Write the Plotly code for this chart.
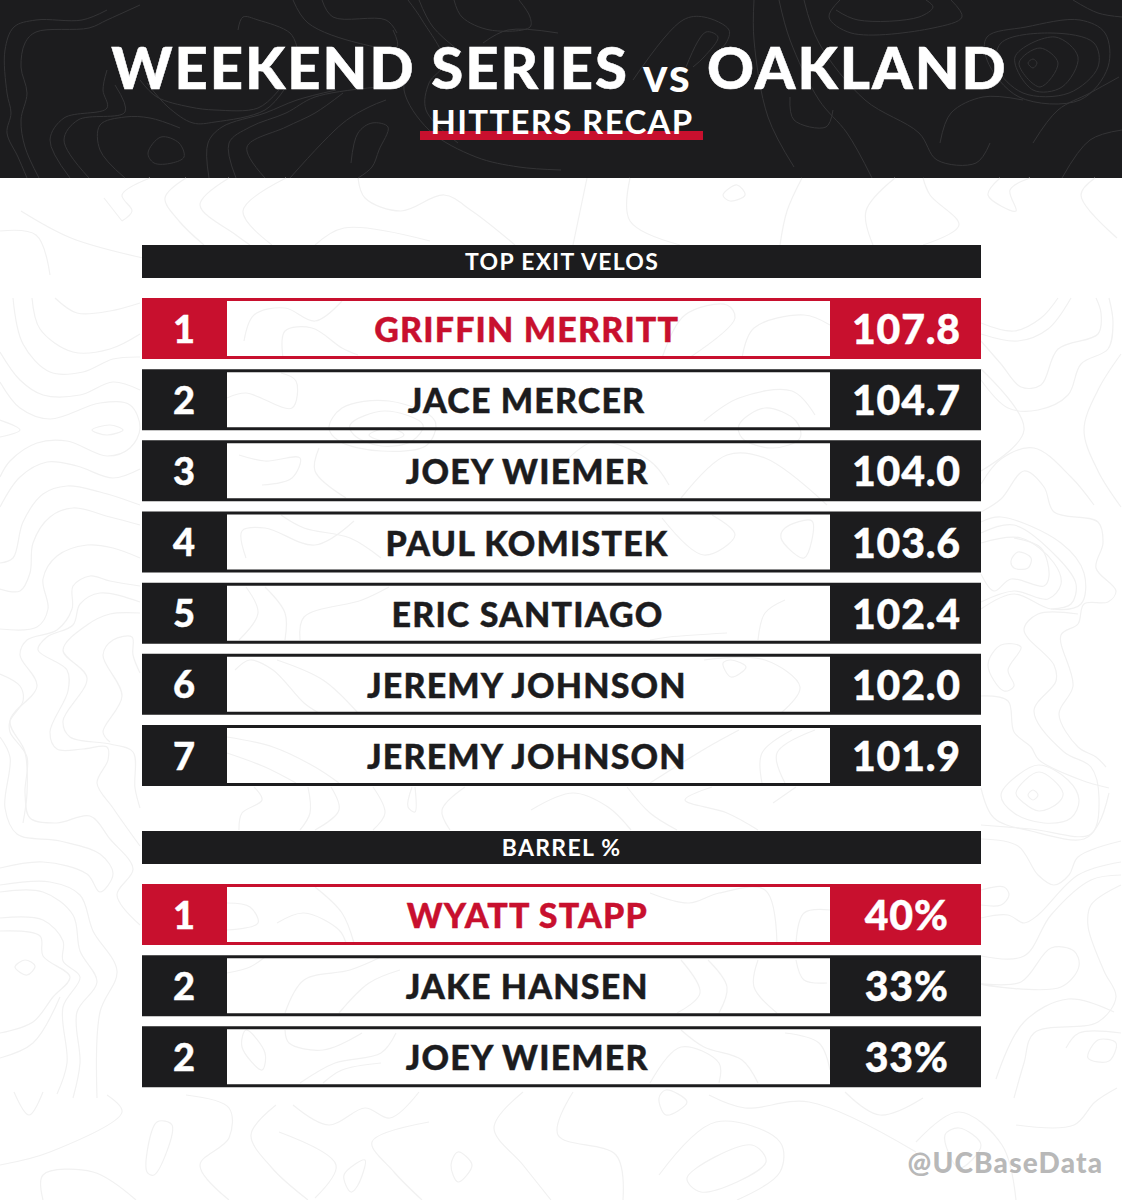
import json
import plotly.graph_objects as go

DARK = "#1c1c1e"
RED = "#c8102e"
FONT = "Lato"

title_left = "WEEKEND SERIES"
title_vs = "vs"
title_right = "OAKLAND"
subtitle = "HITTERS RECAP"
watermark = "@UCBaseData"

velo_header = "TOP EXIT VELOS"
velo_ranks = ["1", "2", "3", "4", "5", "6", "7"]
velo_names = ["GRIFFIN MERRITT", "JACE MERCER", "JOEY WIEMER", "PAUL KOMISTEK",
              "ERIC SANTIAGO", "JEREMY JOHNSON", "JEREMY JOHNSON"]
velo_values = ["107.8", "104.7", "104.0", "103.6", "102.4", "102.0", "101.9"]

barrel_header = "BARREL %"
barrel_ranks = ["1", "2", "2"]
barrel_names = ["WYATT STAPP", "JAKE HANSEN", "JOEY WIEMER"]
barrel_values = ["40%", "33%", "33%"]

# Topographic background lines
header_contours = [
    [(107,10),(82,20),(36,20),(14,27),(5,50),(7,93),(11,113),(7,133),(18,157),(27,178)],
    [(140,5),(107,20),(89,28),(36,32),(25,43),(21,67),(27,93),(21,120),(25,147),(39,178)],
    [(148,153),(161,137),(179,143),(184,157),(172,163),(154,163),(148,153)],
    [(70,178),(50,140),(64,118),(107,108),(103,90),(107,70)],
    [(89,178),(64,140),(78,120),(125,112),(115,85)],
    [(125,178),(100,150),(100,125),(125,117),(150,118),(180,128)],
    [(140,80),(157,97),(190,107),(215,110),(258,108),(279,90)],
    [(147,83),(168,107),(193,123),(215,122),(265,110),(286,87)],
    [(209,178),(208,143),(222,127),(265,113),(297,100),(336,90)],
    [(236,178),(229,143),(250,127),(286,113),(315,97),(379,87)],
    [(265,178),(247,147),(286,127),(315,113),(343,93)],
    [(290,178),(343,123),(369,107),(386,100)],
    [(351,163),(358,133),(372,123),(388,127),(379,150),(372,167),(358,178)],
    [(238,30),(243,17),(258,20),(290,33),(297,47)],
    [(293,0),(308,23),(358,43),(397,47),(393,30)],
    [(322,0),(333,17),(386,20),(397,33)],
    [(408,0),(422,20),(444,63),(429,83),(426,110),(458,143)],
    [(419,0),(433,27),(462,53)],
    [(411,60),(404,90),(429,130),(476,157),(519,167),(561,170)],
    [(454,0),(462,17),(490,30),(530,27),(530,17),(519,0)],
    [(483,43),(508,30),(558,33)],
    [(633,80),(683,20),(704,17),(729,30),(726,43),(711,57)],
    [(686,67),(706,32),(718,37),(704,57),(693,67)],
    [(754,0),(754,40),(768,117),(794,167)],
    [(779,0),(790,40),(819,100),(847,133),(872,178)],
    [(804,0),(819,43),(865,100),(919,133),(937,160),(976,163),(990,143)],
    [(836,10),(858,20),(919,17),(933,7),(926,0)],
    [(840,0),(829,17),(851,33),(933,28),(962,17),(951,0)],
    [(987,37),(1026,27),(1080,20),(1105,33),(1108,67),(1080,100),(1019,97),(987,60),(987,37)],
    [(1001,43),(1051,33),(1094,43),(1098,67),(1069,93),(1023,93),(997,67),(1001,43)],
    [(1015,57),(1055,37),(1078,57),(1062,87),(1033,90),(1015,57)],
    [(1019,63),(1040,48),(1058,63),(1040,87),(1019,63)],
    [(1028,63),(1033,59),(1037,63),(1033,68),(1028,63)],
    [(940,143),(951,113),(983,97),(1023,100)],
    [(1033,143),(1058,110),(1090,93),(1119,77)],
    [(1073,0),(1098,13),(1122,17)],
    [(1062,178),(1090,140),(1122,130)],
    [(790,97),(794,120),(826,127),(833,110)],
]
paper_contours = [
    [(55,298),(77,313),(110,311),(140,303)],
    [(32,298),(40,329),(73,352),(110,349),(140,334)],
    [(13,298),(23,344),(50,372),(83,372),(113,359),(140,357)],
    [(0,352),(20,380),(43,395),(80,395),(113,382),(140,390)],
    [(0,382),(20,408),(50,419),(100,403),(130,405),(140,428),(130,448),(107,456),(67,441),(37,443),(10,461),(0,477)],
    [(92,430),(110,425),(123,430),(107,435),(92,430)],
    [(0,420),(20,430),(0,437)],
    [(0,507),(20,477),(47,462),(77,466),(113,478),(140,469)],
    [(0,563),(13,558),(23,522),(43,494),(67,486),(100,492),(140,505)],
    [(0,589),(20,591),(30,573),(33,543),(50,517),(73,508),(110,517),(140,525)],
    [(0,629),(37,627),(48,609),(43,579),(57,556),(87,545),(113,548),(140,558)],
    [(140,586),(110,581),(90,576),(73,586),(72,609),(57,630),(27,640),(20,655),(37,686),(10,721),(25,752),(27,793),(23,823)],
    [(140,602),(100,593),(80,604),(73,625),(47,637),(38,650),(67,670),(68,691),(50,732),(57,749),(83,749),(107,747),(108,760),(97,783),(113,808),(140,846)],
    [(140,613),(110,614),(87,625),(63,650),(87,678),(63,721),(70,737),(110,744),(133,752),(135,788),(140,808)],
    [(140,673),(133,655),(132,637),(113,640),(103,655),(122,696),(103,732),(110,742)],
    [(0,674),(20,686),(23,701),(10,721),(10,732),(27,757),(25,793),(30,818),(57,823),(90,816),(110,839),(133,869),(117,895),(140,925)],
    [(0,737),(10,757),(5,808),(17,834),(60,841),(100,854),(113,874),(100,892),(87,874),(43,862),(0,868)],
    [(0,885),(50,882),(80,895),(93,931),(117,971),(100,1012),(97,1098)],
    [(0,892),(43,892),(73,915),(80,951),(97,982),(77,1012),(80,1063),(73,1098)],
    [(0,918),(43,920),(63,941),(63,961),(80,977),(63,1007),(67,1063),(57,1094)],
    [(15,967),(25,960),(35,966),(27,975),(15,967)],
    [(0,931),(40,936),(43,956),(70,977),(53,997),(33,1022),(0,1033)],
    [(0,1058),(33,1043),(60,997)],
    [(981,323),(1014,331),(1041,318),(1058,298)],
    [(981,334),(1018,341),(1048,329),(1071,298)],
    [(981,341),(1001,364),(1021,387),(1041,385),(1058,349),(1098,334),(1101,313),(1096,298)],
    [(981,369),(1024,430),(981,471)],
    [(981,380),(1008,408),(1038,410),(1068,395),(1081,364),(1108,349),(1113,323),(1109,298)],
    [(1121,354),(1098,390),(1084,430),(1098,471),(1121,507)],
    [(981,484),(1001,459),(1034,448),(1071,477),(1094,505)],
    [(981,512),(1001,499),(1024,471),(1044,487),(1054,512),(1098,522),(1103,543),(1096,568),(1116,591),(1108,602),(1084,604),(1078,624),(1061,635),(1073,686),(1059,714),(1078,747),(1096,757),(1106,767)],
    [(981,522),(1001,517),(1061,543),(1084,573),(1081,604),(1051,609),(1014,594),(981,609)],
    [(981,533),(1014,525),(1058,558),(1076,584),(1071,604),(1051,609)],
    [(981,543),(1021,538),(1054,563),(1061,584),(1048,599),(1014,591),(981,602)],
    [(981,574),(994,591),(1011,579),(1044,586),(1049,576),(1041,548),(1014,538)],
    [(1011,561),(1018,552),(1031,558),(1028,568),(1014,568),(1011,561)],
    [(1078,614),(1038,614),(1024,630),(1054,665),(1056,681),(1034,711),(1064,752),(1091,767),(1099,798),(1091,834),(1031,829),(981,825)],
    [(988,665),(1001,645),(1021,647),(1008,670),(1014,686),(1004,691),(988,665)],
    [(981,696),(1008,701),(1014,732),(1031,747),(1039,760),(1081,780),(1109,788)],
    [(1001,795),(1018,775),(1039,765),(1068,780),(1079,800),(1071,818),(1044,823),(1014,813),(1001,795)],
    [(1016,793),(1039,772),(1063,793),(1058,803),(1039,811),(1024,803),(1016,793)],
    [(1028,795),(1033,790),(1038,795),(1033,800),(1028,795)],
    [(981,788),(994,818),(1031,831),(1084,839),(1099,823),(1109,793)],
    [(981,839),(1018,846),(1038,875),(1054,885),(1069,875),(1078,857),(1121,841)],
    [(981,890),(1004,887),(1009,895),(1001,905),(981,905)],
    [(981,918),(1008,915),(1024,923),(1038,915),(1078,875),(1121,862)],
    [(981,956),(1024,956),(1051,915),(1091,880),(1121,875)],
    [(1121,885),(1091,905),(1088,926),(1104,971),(1116,997),(1098,1022),(1034,1033),(1024,1063),(1014,1098)],
    [(981,984),(1021,982),(1051,948),(1074,951),(1079,966),(1061,987),(981,984)],
    [(996,1079),(1024,1022),(1068,999),(1114,1012)],
    [(1066,1048),(1079,1033),(1121,1033)],
    [(1088,1058),(1098,1040),(1116,1043),(1109,1061),(1088,1058)],
    [(122,221),(132,211),(122,195),(150,178)],
    [(104,198),(122,221)],
    [(186,178),(165,198),(179,221),(204,245)],
    [(229,178),(200,205),(236,235),(250,245)],
    [(286,178),(243,211),(272,245)],
    [(358,178),(365,198),(401,211),(444,195),(472,211),(515,245)],
    [(315,245),(344,228),(430,241)],
    [(587,178),(573,245)],
    [(630,178),(630,221),(680,245)],
    [(723,195),(737,185),(745,195),(730,201),(723,195)],
    [(802,178),(787,211),(780,245)],
    [(895,178),(866,211),(873,245)],
    [(923,178),(930,195),(959,225),(923,245)],
    [(1000,178),(988,195),(1016,211),(1010,190),(1030,178)],
    [(1095,178),(1081,195),(1117,238)],
    [(0,231),(36,235),(50,275)],
    [(21,211),(71,238),(143,258)],
    [(147,1172),(157,1122),(172,1125),(154,1175),(147,1172)],
    [(186,1095),(229,1108),(229,1138),(200,1165),(229,1200)],
    [(276,1105),(251,1135),(272,1168),(308,1200)],
    [(293,1105),(329,1125),(365,1108),(390,1118),(419,1092)],
    [(279,1132),(336,1165),(315,1198)],
    [(344,1175),(365,1160),(358,1185),(351,1192),(344,1175)],
    [(458,1152),(472,1165),(458,1182),(451,1165),(458,1152)],
    [(429,1122),(372,1142),(394,1172),(422,1200)],
    [(573,1092),(558,1135),(616,1155),(623,1200)],
    [(523,1092),(494,1128),(523,1165),(551,1200)],
    [(659,1098),(666,1115),(687,1102),(666,1090),(659,1098)],
    [(687,1178),(752,1145),(766,1162),(701,1192),(687,1178)],
    [(659,1175),(716,1122),(780,1142),(780,1172),(737,1200)],
    [(709,1095),(745,1108),(809,1102),(916,1152)],
    [(845,1092),(880,1115),(923,1098)],
    [(945,1135),(959,1128),(981,1145),(959,1168),(945,1135)],
    [(916,1142),(959,1112),(1002,1145),(1016,1200)],
    [(1016,1125),(1074,1125),(1095,1102),(1117,1088)],
    [(14,1092),(29,1115),(43,1092)],
    [(107,1095),(122,1112),(50,1152),(0,1165)],
    [(43,1200),(43,1175),(93,1172),(136,1200)],
    # centre of the tables
    [(227,398),(246,393),(292,408),(296,381),(281,373)],
    [(329,428),(342,408),(389,401),(435,421),(427,445),(381,451),(339,441),(329,428)],
    [(350,425),(385,411),(423,425),(412,441),(381,446),(354,435),(350,425)],
    [(369,435),(389,428),(404,435),(385,441),(369,435)],
    [(739,425),(765,408),(796,421),(800,438),(773,448),(742,438),(739,425)],
    [(704,421),(739,398),(792,391),(815,415)],
    [(244,341),(254,315),(285,308),(315,321),(342,301)],
    [(283,358),(285,331),(312,328),(342,348),(358,355)],
    [(662,358),(685,315),(727,305),(735,318),(689,358)],
    [(742,358),(754,328),(804,315),(830,325)],
    [(239,455),(265,461),(300,458),(292,478),(262,485)],
    [(319,448),(315,471),(346,498)],
    [(681,498),(727,455),(765,458),(827,505)],
    [(562,465),(596,441),(650,461),(669,485)],
    [(246,558),(242,531),(265,528),(315,545),(354,521)],
    [(281,515),(304,528),(350,538),(381,558)],
    [(662,518),(704,555),(735,535),(712,515)],
    [(785,528),(812,521),(804,558),(781,538),(785,528)],
    [(246,587),(258,613),(239,640)],
    [(265,587),(285,613),(285,640)],
    [(300,640),(304,617),(362,600),(389,587)],
    [(758,640),(765,613),(785,600)],
    [(650,640),(669,637),(727,633)],
    [(235,670),(250,660),(273,670),(304,703),(319,713)],
    [(277,660),(323,680),(358,713)],
    [(723,663),(731,660),(746,667),(731,677),(723,663)],
    [(704,660),(765,660),(800,687),(781,713)],
    [(227,737),(273,747),(315,767),(339,783)],
    [(227,753),(265,767),(296,783)],
    [(762,783),(762,753),(792,730)],
    [(785,783),(777,753),(815,730)],
    [(650,783),(708,747),(739,730)],
    [(254,787),(262,800),(242,813),(239,830)],
    [(308,787),(310,813),(300,830)],
    [(331,787),(339,810),(315,830)],
    [(373,787),(385,813),(373,830)],
    [(412,787),(408,807),(415,812),(415,787)],
    [(465,787),(442,810),(450,830)],
    [(531,810),(573,793),(608,807),(631,830)],
    [(627,787),(650,813),(677,830)],
    [(712,787),(685,800),(727,813),(758,830)],
    [(773,803),(796,787)],
    [(227,903),(250,907),(258,923),(227,930)],
    [(277,923),(304,913),(339,930),(346,943)],
    [(315,887),(342,913),(354,943)],
    [(650,893),(689,903),(719,893),(765,890),(777,943)],
    [(796,943),(804,913),(830,910)],
    [(227,973),(250,967),(265,957)],
    [(285,1013),(304,980),(350,970),(381,957)],
    [(339,1013),(369,983),(400,970)],
    [(681,960),(700,993),(677,1013)],
    [(708,960),(727,987),(719,1013)],
    [(777,1013),(754,987),(758,960)],
    [(796,960),(804,980),(827,983)],
    [(246,1030),(265,1053),(262,1070),(242,1047),(246,1030)],
    [(285,1030),(289,1043),(323,1050),(362,1033)],
    [(300,1083),(335,1063),(381,1053),(396,1033)],
    [(323,1083),(342,1070),(381,1063)],
    [(650,1083),(681,1047),(719,1063),(719,1083)],
    [(681,1030),(704,1047),(742,1060),(758,1083)],
    [(785,1033),(819,1043),(830,1070)],
]

W, H = 1122, 1200
LEFT, RANK_R, VAL_L, RIGHT = 142, 227, 830, 981
ROW_H, PITCH = 61, 71.17
# letter spacing (em) and outline (px) for each text size used below
SPACING = {58: 0.034, 48: 0.03, 33: 0.04, 34: 0.034, 41: 0.02, 38: 0, 23: 0.056, 28: 0.042}
STROKE = {58: 0.5, 34: 0.4, 41: 0.4, 38: 0.4}
shapes, annos = [], []


def rect(x0, y0, x1, y1, fill, layer="above"):
    shapes.append(dict(type="rect", x0=x0, y0=y0, x1=x1, y1=y1, fillcolor=fill,
                       line=dict(width=0), layer=layer))


def text(x, y, s, size, color, weight=700):
    annos.append(dict(x=x, y=y, text=s, showarrow=False, xanchor="center", yanchor="middle",
                      font=dict(family=FONT, size=size, color=color, weight=weight)))


rect(0, 0, W, 178, DARK, layer="below")
rect(420, 131, 703, 140, RED)
text(370, 66, title_left, 58, "white", 900)
text(667, 73, title_vs, 48, "white", 700)
text(857, 66, title_right, 58, "white", 900)
text(562, 121, subtitle, 33, "white", 700)
text(1005, 1162, watermark, 28, "#b8b8b8", 900)


def table(header, top_header, top_rows, ranks, names, values):
    rect(LEFT, top_header, RIGHT, top_header + 33, DARK)
    text((LEFT + RIGHT) / 2, top_header + 16, header, 23, "white", 700)
    for i, (r, n, v) in enumerate(zip(ranks, names, values)):
        c = RED if i == 0 else DARK
        y0 = top_rows + i * PITCH
        y1 = y0 + ROW_H
        mid = (y0 + y1) / 2
        rect(LEFT, y0, RANK_R, y1, c)
        rect(VAL_L, y0, RIGHT, y1, c)
        rect(RANK_R, y0, VAL_L, y0 + 3, c)
        rect(RANK_R, y1 - 3, VAL_L, y1, c)
        text(184, mid - 1, r, 38, "white", 900)
        text(527, mid, n, 34, c, 900)
        text(906, mid, v, 41, "white", 900)


table(velo_header, 245, 298, velo_ranks, velo_names, velo_values)
table(barrel_header, 831, 884, barrel_ranks, barrel_names, barrel_values)

fig = go.Figure()
for group, colour, width in ((header_contours, "#343436", 1), (paper_contours, "#f1f1f1", 1.2)):
    for path in group:
        fig.add_trace(go.Scatter(
            x=[p[0] for p in path], y=[p[1] for p in path], mode="lines",
            line=dict(color=colour, width=width, shape="spline", smoothing=1),
            hoverinfo="skip", showlegend=False,
        ))

fig.update_layout(
    width=W, height=H, margin=dict(l=0, r=0, t=0, b=0),
    paper_bgcolor="white", plot_bgcolor="white", showlegend=False,
    xaxis=dict(range=[0, W], visible=False, fixedrange=True),
    yaxis=dict(range=[H, 0], visible=False, fixedrange=True),
    shapes=shapes, annotations=annos,
)
post = (
    "document.body.style.margin='0';"
    "var sp=" + json.dumps({str(k): v for k, v in SPACING.items()}) + ";"
    "var st=" + json.dumps({str(k): v for k, v in STROKE.items()}) + ";"
    "document.querySelectorAll('.annotation-text').forEach(function(t){"
    "var s=Math.round(parseFloat(t.style.fontSize));"
    "if(sp[s]){t.style.letterSpacing=sp[s]+'em';}"
    "if(st[s]){t.style.stroke=t.style.fill;t.style.strokeWidth=st[s]+'px';}});"
)
fig.write_html("out.html", post_script=post, config=dict(displayModeBar=False))
